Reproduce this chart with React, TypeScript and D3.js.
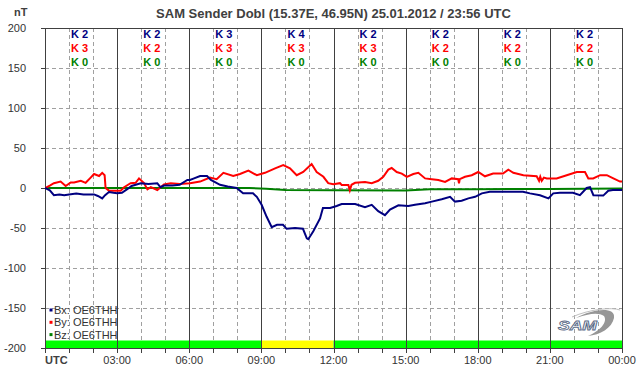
import React from "react";
import * as d3 from "d3";

const W = 642;
const H = 376;

const title = "SAM Sender Dobl (15.37E, 46.95N) 25.01.2012 / 23:56 UTC";
const yTicks = [200, 150, 100, 50, 0, -50, -100, -150, -200];
const xTickLabels = ["UTC", "03:00", "06:00", "09:00", "12:00", "15:00", "18:00", "21:00", "00:00"];
const kBx = [2, 2, 3, 4, 2, 2, 2, 2];
const kBy = [3, 2, 3, 3, 3, 2, 2, 2];
const kBz = [0, 0, 0, 0, 0, 0, 0, 0];
const legendNames = ["Bx: OE6THH", "By: OE6THH", "Bz: OE6THH"];
const seriesColors = ["#000080", "#ff0000", "#008000"];
// status bar segments: [startHour, endHour, colour]
const statusBar: [number, number, string][] = [
  [0, 9, "#00ff00"],
  [9, 12, "#ffff00"],
  [12, 24, "#00ff00"],
];

const bxData: [number, number][] = [
  [0, 0], [0.2, -3], [0.37, -9], [0.6, -8], [0.8, -9], [1.0, -8], [1.3, -7], [1.6, -8], [2.04, -8],
  [2.2, -10], [2.38, -13], [2.5, -9], [2.66, -5], [2.85, -6], [3.0, -6.5], [3.2, -6],
  [3.42, -1.5], [3.6, 2.5], [3.98, 6], [4.3, 5], [4.67, 6], [4.8, 1], [4.95, 3], [5.3, 3],
  [5.6, 4], [5.92, 10], [6.03, 10], [6.2, 12], [6.45, 15], [6.74, 15], [6.9, 10], [7.28, 4],
  [7.6, 2], [7.97, 0], [8.24, -6.7], [8.65, -6.7], [8.81, -11], [9.01, -21], [9.22, -36],
  [9.43, -49], [9.65, -46], [9.9, -46], [10.05, -51], [10.4, -50], [10.73, -51], [10.89, -63],
  [10.95, -64], [11.16, -54], [11.44, -38], [11.56, -25], [11.86, -25], [12.13, -22.5],
  [12.34, -20], [12.9, -20], [13.31, -24], [13.59, -21], [13.86, -29], [14.14, -34],
  [14.35, -27], [14.7, -21.7], [15.11, -22.5], [15.39, -21], [15.81, -19], [16.09, -17],
  [16.5, -14], [16.85, -11], [17.05, -17], [17.33, -16], [17.61, -13], [17.89, -11],
  [18.17, -6.7], [18.5, -4.6], [18.93, -4.6], [19.2, -4.6], [19.88, -4.6], [20.17, -6.7],
  [20.59, -9], [20.94, -13], [21.14, -6.7], [21.42, -6], [21.96, -6], [22.25, -9],
  [22.53, 0], [22.67, 1], [22.81, -9], [23.22, -9.5], [23.43, -3.4], [23.62, -2.5], [24, -2.5],
];

const byData: [number, number][] = [
  [0, 0], [0.2, 3], [0.37, 6], [0.65, 8], [0.86, 2.5], [1.07, 7], [1.21, 7], [1.49, 9],
  [1.69, 6.5], [1.9, 13], [2.04, 17.5], [2.25, 15], [2.38, 19], [2.48, 16], [2.52, 0],
  [2.66, -3.3], [3.15, -3.3], [3.29, 1], [3.56, 6], [3.77, 6.5], [3.91, 12], [4.12, 6],
  [4.26, -1.7], [4.4, 1], [4.67, -2.5], [4.95, 4.5], [5.23, 6], [5.6, 5], [6.03, 6],
  [6.45, 8], [6.86, 13], [7.14, 11], [7.42, 19], [7.83, 15], [8.11, 17.5], [8.46, 21.7],
  [8.81, 16], [9.15, 19], [9.57, 24.6], [9.91, 28.7], [10.19, 24.6], [10.47, 16],
  [10.74, 20], [11.09, 30], [11.3, 20], [11.58, 14], [11.78, 6], [11.99, 4.6], [12.27, 6],
  [12.34, 3.7], [12.62, 3.7], [12.68, -3], [12.75, 4], [12.9, 6.5], [13.31, 7.5],
  [13.59, 6], [13.86, 9], [14.07, 14], [14.28, 23], [14.42, 25], [14.63, 20], [14.84, 18],
  [15.05, 14], [15.32, 17.5], [15.53, 19], [15.81, 12], [16.09, 11], [16.36, 10],
  [16.64, 7.5], [16.92, 12], [17.19, 11], [17.22, 6], [17.25, 11], [17.47, 14], [17.75, 16], [18.02, 20],
  [18.3, 14.6], [18.64, 18], [19.05, 18], [19.27, 23], [19.48, 19], [19.9, 16],
  [20.45, 14.6], [20.55, 9], [20.6, 14], [20.66, 9], [20.75, 13], [20.87, 12], [21.28, 12], [21.7, 16], [22.12, 20],
  [22.46, 20], [22.6, 12], [22.8, 12], [23.09, 16], [23.37, 16], [23.64, 12], [23.92, 8],
  [24, 8],
];

const bzData: [number, number][] = [
  [0, 0], [8.5, 0], [9.2, -1], [10, -2.5], [12, -2.8], [15, -3], [16, -1.5], [18, -1.5],
  [21, -1.2], [24, -0.5],
];

const series = [bxData, byData, bzData];
const kRows = [kBx, kBy, kBz];

export default function App() {
  const left = 45, right = 622, top = 28, bottom = 348;
  const x = d3.scaleLinear().domain([0, 24]).range([left, right]);
  const y = d3.scaleLinear().domain([-200, 200]).range([bottom, top]);
  const line = d3
    .line<[number, number]>()
    .x((d) => x(d[0]))
    .y((d) => y(d[1]));
  const hours = d3.range(0, 25);
  const font = "'Liberation Sans', Arial, sans-serif";
  const axisColor = "#404040";
  const textColor = "#333333";

  return (
    <svg
      width={W}
      height={H}
      style={{ position: "absolute", left: 0, top: 0, background: "#fff" }}
      fontFamily={font}
    >
      <rect x={0} y={0} width={W} height={H} fill="#fff" />
      {/* title */}
      <text x={(left + right) / 2} y={18} textAnchor="middle" fontSize={13} fontWeight="bold" fill={axisColor}>
        {title}
      </text>
      <text x={14} y={16} fontSize={11} fontWeight="bold" fill={axisColor}>
        nT
      </text>

      {/* horizontal dashed grid */}
      {yTicks
        .filter((t) => t !== 200 && t !== -200)
        .map((t) => (
          <line key={"hg" + t} x1={left} x2={right} y1={y(t) + 0.5} y2={y(t) + 0.5} stroke="#a0a0a0" strokeDasharray="4,3" />
        ))}
      {/* vertical hour dashed grid */}
      {hours
        .filter((h) => h % 3 !== 0)
        .map((h) => (
          <line key={"vg" + h} x1={Math.round(x(h)) + 0.5} x2={Math.round(x(h)) + 0.5} y1={top} y2={bottom} stroke="#a0a0a0" strokeDasharray="4,3" />
        ))}

      {/* status bar */}
      {statusBar.map(([a, b, c], i) => (
        <rect key={"sb" + i} x={x(a)} y={bottom - 7.5} width={x(b) - x(a)} height={7.5} fill={c} />
      ))}

      {/* major vertical lines */}
      {hours
        .filter((h) => h % 3 === 0)
        .map((h) => (
          <line key={"vm" + h} x1={Math.round(x(h)) + 0.5} x2={Math.round(x(h)) + 0.5} y1={top} y2={bottom} stroke={axisColor} />
        ))}
      {/* top and bottom borders */}
      <line x1={left} x2={right + 1} y1={top + 0.5} y2={top + 0.5} stroke={axisColor} />
      <line x1={left} x2={right + 1} y1={bottom + 0.5} y2={bottom + 0.5} stroke={axisColor} />

      {/* y ticks & labels */}
      {yTicks.map((t) => (
        <g key={"yt" + t}>
          <line x1={left - 4} x2={left} y1={y(t) + 0.5} y2={y(t) + 0.5} stroke={axisColor} />
          <text x={26} y={y(t) + 4} textAnchor="end" fontSize={11} fill={textColor}>
            {t}
          </text>
        </g>
      ))}
      {/* x ticks */}
      {hours.map((h) => (
        <line key={"xt" + h} x1={Math.round(x(h)) + 0.5} x2={Math.round(x(h)) + 0.5} y1={bottom} y2={bottom + 5} stroke={axisColor} />
      ))}
      {xTickLabels.map((lbl, i) =>
        i === 0 ? (
          <text key={"xl" + i} x={left} y={364} fontSize={11} fontWeight="bold" fill={axisColor}>
            {lbl}
          </text>
        ) : (
          <text key={"xl" + i} x={x(i * 3)} y={364} textAnchor="middle" fontSize={11} fill={textColor}>
            {lbl}
          </text>
        )
      )}

      {/* K indices */}
      {kRows.map((row, r) =>
        row.map((k, i) => (
          <text
            key={"k" + r + "-" + i}
            x={x(i * 3 + 1) + 2}
            y={38 + r * 14}
            fontSize={11}
            fontWeight="bold"
            fill={seriesColors[r]}
          >
            {"K " + k}
          </text>
        ))
      )}

      {/* data lines */}
      <defs>
        <clipPath id="plotClip">
          <rect x={left} y={top} width={right - left} height={bottom - top} />
        </clipPath>
      </defs>
      <g clipPath="url(#plotClip)">
        {[2, 1, 0].map((i) => (
          <path key={"s" + i} d={line(series[i]) || ""} fill="none" stroke={seriesColors[i]} strokeWidth={2} strokeLinejoin="miter" />
        ))}
      </g>

      {/* legend */}
      {legendNames.map((n, i) => (
        <g key={"lg" + i}>
          <rect x={49.5} y={308.5 + i * 12.3} width={3} height={3} fill={seriesColors[i]} />
          <text x={54} y={314 + i * 12.3} fontSize={11} fill={textColor}>
            {n}
          </text>
        </g>
      ))}

      {/* SAM logo */}
      <g>
        <path
          d="M 576 318 C 592 309, 616 306, 614 318 C 612 328, 600 335, 588 336 C 600 331, 608 322, 604 316 C 598 312, 588 314, 576 318 Z"
          fill="#8c8c8c"
          opacity={0.9}
        />
        <path d="M 572 317 C 590 309, 612 307, 620 310" fill="none" stroke="#c0c0c0" strokeWidth={1} />
        <text
          x={0}
          y={0}
          transform="translate(558,330) scale(1.35,1)"
          fontSize={13}
          fontStyle="italic"
          fontWeight="bold"
          fill="#ffffff"
          stroke="#5c6c88"
          strokeWidth={0.8}
        >
          SAM
        </text>
      </g>
    </svg>
  );
}
